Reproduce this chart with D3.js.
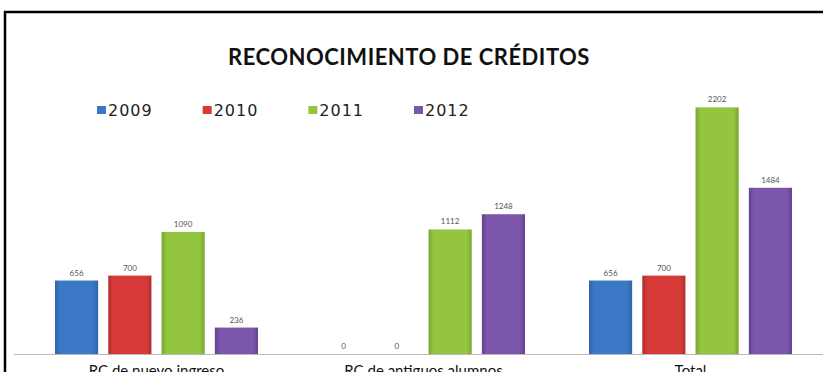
<!DOCTYPE html>
<html>
<head>
    <meta charset="utf-8" />
    <title>Reconocimiento de créditos</title>
    <script src="https://d3js.org/d3.v7.min.js"></script>
    <style>
        body { margin: 0; background: #fff; }
        svg { display: block; font-family: Lato, "Open Sans", sans-serif; }
    </style>
</head>
<body>
    <svg width="823" height="372"></svg>
    <script>
        // data
        var categories = ["RC de nuevo ingreso", "RC de antiguos alumnos", "Total"];
        var years = ["2009", "2010", "2011", "2012"];
        var values2009 = [656, 0, 656];
        var values2010 = [700, 0, 700];
        var values2011 = [1090, 1112, 2202];
        var values2012 = [236, 1248, 1484];
        var seriesValues = [values2009, values2010, values2011, values2012];

        var colors = ["#3b78c6", "#d63b3a", "#93c63e", "#7c56aa"];
        var darker = ["#2f64a8", "#b42e2e", "#7aa72f", "#63438d"];

        var svg = d3.select("svg"),
            width = +svg.attr("width"),
            height = +svg.attr("height");

        var baseY = 354;

        // gradients for the bars (lighter in the middle)
        var defs = svg.append("defs");
        years.forEach(function (yr, i) {
            var gr = defs.append("linearGradient")
                .attr("id", "grad" + i)
                .attr("x1", "0%").attr("x2", "100%")
                .attr("y1", "0%").attr("y2", "0%");
            gr.append("stop").attr("offset", "0%").attr("stop-color", darker[i]);
            gr.append("stop").attr("offset", "12%").attr("stop-color", colors[i]);
            gr.append("stop").attr("offset", "88%").attr("stop-color", colors[i]);
            gr.append("stop").attr("offset", "100%").attr("stop-color", darker[i]);
        });

        // frame
        svg.append("rect")
            .attr("x", 5).attr("y", 12)
            .attr("width", 840).attr("height", 420)
            .attr("fill", "none")
            .attr("stroke", "#000")
            .attr("stroke-width", 2.5);

        // title
        svg.append("text")
            .attr("x", 409)
            .attr("y", 65)
            .attr("text-anchor", "middle")
            .style("font-size", "22px")
            .style("letter-spacing", "0.5px")
            .style("font-weight", "bold")
            .attr("fill", "#111")
            .text("RECONOCIMIENTO DE CRÉDITOS");

        // legend
        var legendX = d3.scalePoint().domain(years).range([97, 414]);
        var legend = svg.selectAll(".legend")
            .data(years)
            .enter()
            .append("g")
            .attr("class", "legend")
            .attr("transform", function (d) {
                return "translate(" + legendX(d) + ",116)";
            });
        legend.append("rect")
            .attr("x", 0).attr("y", -10)
            .attr("width", 9).attr("height", 8)
            .attr("fill", function (d, i) { return colors[i]; });
        legend.append("text")
            .attr("x", 11)
            .attr("y", 0)
            .style("font-family", "'DejaVu Sans', sans-serif")
            .style("font-size", "16px")
            .style("letter-spacing", "1px")
            .attr("fill", "#222")
            .text(function (d) { return d; });

        // scales
        var x0 = d3.scaleBand().domain(categories).range([23, 824]);
        var x1 = d3.scaleBand().domain(years)
            .range([32, x0.bandwidth() - 32])
            .paddingInner(0.19);
        var y = d3.scaleLinear().domain([0, 2500]).range([baseY, baseY - 280]);

        // bars
        var groups = svg.selectAll(".group")
            .data(categories)
            .enter()
            .append("g")
            .attr("class", "group")
            .attr("transform", function (d) { return "translate(" + x0(d) + ",0)"; });

        groups.selectAll("rect.bar")
            .data(function (d, ci) {
                return years.map(function (yr, si) {
                    return { year: yr, si: si, value: seriesValues[si][ci] };
                });
            })
            .enter()
            .append("rect")
            .attr("class", "bar")
            .attr("x", function (d) { return x1(d.year); })
            .attr("y", function (d) { return y(d.value); })
            .attr("width", x1.bandwidth())
            .attr("height", function (d) { return baseY - y(d.value); })
            .attr("fill", function (d) { return "url(#grad" + d.si + ")"; });

        groups.selectAll("text.val")
            .data(function (d, ci) {
                return years.map(function (yr, si) {
                    return { year: yr, value: seriesValues[si][ci] };
                });
            })
            .enter()
            .append("text")
            .attr("class", "val")
            .attr("x", function (d) { return x1(d.year) + x1.bandwidth() / 2; })
            .attr("y", function (d) { return y(d.value) - 5; })
            .attr("text-anchor", "middle")
            .style("font-size", "8px")
            .attr("fill", "#555")
            .text(function (d) { return d.value; });

        // axis line and category labels
        var xAxis = svg.append("g")
            .attr("transform", "translate(0," + baseY + ")")
            .call(d3.axisBottom(x0).tickSize(0).tickPadding(11));
        xAxis.select(".domain")
            .attr("d", "M14,0.5H823")
            .attr("stroke", "#bbb");
        xAxis.selectAll("text")
            .style("font-size", "15px")
            .style("font-family", "Lato, 'Open Sans', sans-serif")
            .attr("fill", "#111");
    </script>
</body>
</html>
